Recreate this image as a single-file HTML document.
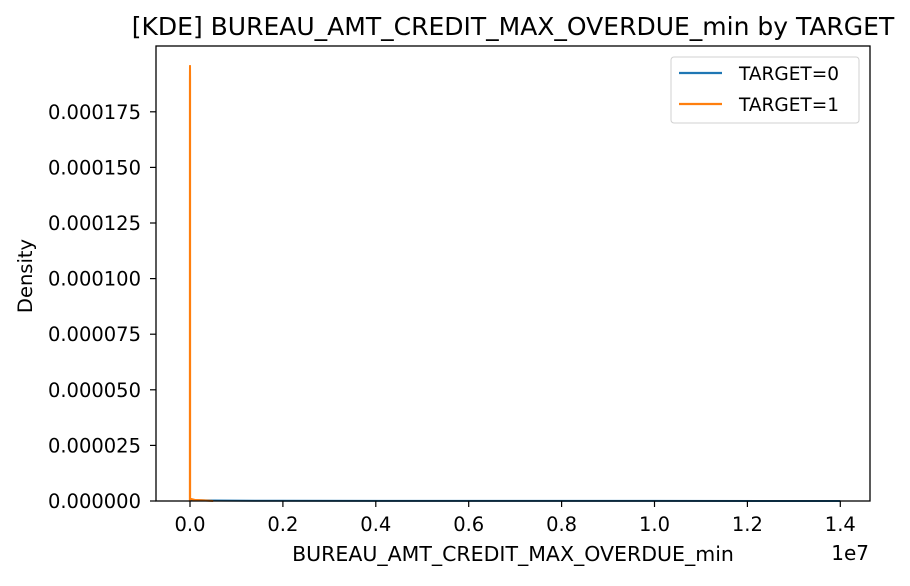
<!DOCTYPE html>
<html><head><meta charset="utf-8"><style>
body{margin:0;background:#fff;}
svg text{font-family:"DejaVu Sans","Liberation Sans",sans-serif;fill:#000;}
</style></head><body>
<svg id="chart" width="910" height="581" xmlns="http://www.w3.org/2000/svg">
<rect width="910" height="581" fill="#fff"/>
</svg>
<script>
const xTicks=[0,0.2,0.4,0.6,0.8,1.0,1.2,1.4];
const xTickLabels=["0.0","0.2","0.4","0.6","0.8","1.0","1.2","1.4"];
const yTicks=[0,0.000025,0.00005,0.000075,0.0001,0.000125,0.00015,0.000175];
const yTickLabels=["0.000000","0.000025","0.000050","0.000075","0.000100","0.000125","0.000150","0.000175"];
const seriesNames=["TARGET=0","TARGET=1"];
const t0x=[0,0.01,0.05,0.2,0.5,1.0,1.4];
const t0y=[0.0000008,0.0000004,0.0000002,0.0000001,0.00000005,0.00000003,0.00000002];
const t1x=[-0.0003,-0.0002,0,0.0002,0.0003,0.01,0.03,0.05];
const t1y=[0,0.00019,0.000196,0.00019,0.000001,0.0000005,0.0000003,0];
const L=156,R=870,T=46,B=501;
const sx=v=>190+v*464.5;
const sy=v=>B-v/0.000025*55.6;
const NS="http://www.w3.org/2000/svg";
const svg=document.getElementById('chart');
function mk(tag,attrs,parent){const e=document.createElementNS(NS,tag);for(const k in attrs)e.setAttribute(k,attrs[k]);(parent||svg).appendChild(e);return e;}
function line(xs,ys,color,name){
  const d=xs.map((x,i)=>(i?'L':'M')+sx(x).toFixed(2)+','+sy(ys[i]).toFixed(2)).join(' ');
  const p=mk('path',{d:d,fill:'none',stroke:color,'stroke-width':2});
  
  
}
line(t0x,t0y,'#1f77b4','kde-line-target-0');
line(t1x,t1y,'#ff7f0e','kde-line-target-1');
const frame=mk('rect',{x:L,y:T,width:R-L,height:B-T,fill:'none',stroke:'#000','stroke-width':1.3});


xTicks.forEach((v,i)=>{
  const x=sx(v);
  mk('line',{x1:x,x2:x,y1:B,y2:B+6,stroke:'#000','stroke-width':1.2});
  const t=mk('text',{x:x,y:B+30,'text-anchor':'middle','font-size':19.5});
  t.textContent=xTickLabels[i];
  
  
});
yTicks.forEach((v,i)=>{
  const y=sy(v);
  mk('line',{x1:L-6,x2:L,y1:y,y2:y,stroke:'#000','stroke-width':1.2});
  const t=mk('text',{x:L-15,y:y+7,'text-anchor':'end','font-size':19.5});
  t.textContent=yTickLabels[i];
  
  
});
function txt(x,y,s,size,name,extra){const t=mk('text',Object.assign({x:x,y:y,'font-size':size},extra||{}));t.textContent=s;return t;}
txt(513,35,'[KDE] BUREAU_AMT_CREDIT_MAX_OVERDUE_min by TARGET',25,'chart-title',{'text-anchor':'middle'});
txt(513,561,'BUREAU_AMT_CREDIT_MAX_OVERDUE_min',20.5,'x-axis-title',{'text-anchor':'middle'});
txt(869,560,'1e7',20,'x-axis-offset',{'text-anchor':'end'});
txt(32,276,'Density',19.5,'y-axis-title',{'text-anchor':'middle',transform:'rotate(-90 32 276)'});
const lg=mk('g',{});


mk('rect',{x:671,y:57,width:188,height:66,rx:3,fill:'#fff',stroke:'#d0d0d0','stroke-width':1},lg);
const colors=['#1f77b4','#ff7f0e'];
seriesNames.forEach((n,i)=>{
  const y=73+i*31;
  const l=mk('line',{x1:679,x2:722,y1:y,y2:y,stroke:colors[i],'stroke-width':2.2},lg);
  
  
  const t=mk('text',{x:739,y:y+7,'font-size':18.5},lg);
  t.textContent=n;
  
  
});
</script>
</body></html>
